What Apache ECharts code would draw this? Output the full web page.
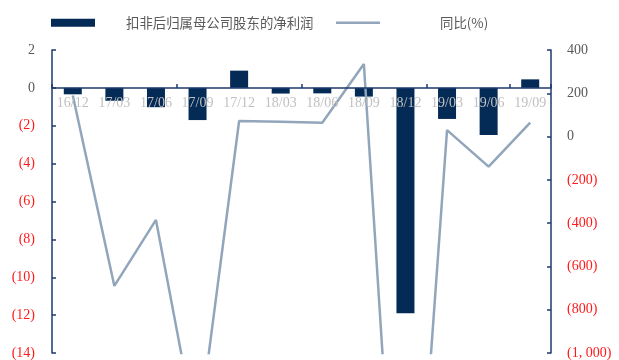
<!DOCTYPE html>
<html>
<head>
<meta charset="utf-8">
<script src="https://cdn.jsdelivr.net/npm/echarts@6/dist/echarts.min.js"></script>
<style>html,body{margin:0;padding:0;background:#fff}#c{width:619px;height:360px}</style>
</head>
<body>
<div id="c"></div>
<script>
var categories = ['16/12','17/03','17/06','17/09','17/12','18/03','18/06','18/09','18/12','19/03','19/06','19/09'];
var netProfit = [-0.34,-0.68,-1.02,-1.7,0.91,-0.3,-0.29,-0.46,-11.9,-1.64,-2.49,0.45];
var yoy = [190,-690,-385,-1400,72,68,64,335,-2650,30,-139,64];
var leftTicks = [2,0,-2,-4,-6,-8,-10,-12,-14];
var rightTicks = [400,200,0,-200,-400,-600,-800,-1000];

var serif = "'Times New Roman','Liberation Serif',serif";
var cjk = "'Noto Sans CJK SC',sans-serif";
var axisColor = '#1f3a6e';
var barColor = '#042a56';
var lineColor = '#91a6ba';

var gridTop = 50, gridBottom = 7, H = 360;
var plotH = H - gridTop - gridBottom;
var leftMin = leftTicks[leftTicks.length-1], leftMax = leftTicks[0];
var zeroOffset = plotH * (0 - leftMin) / (leftMax - leftMin);

function fmtNum(v){
  var a = Math.abs(v);
  var s = a >= 1000 ? (Math.floor(a/1000) + ', ' + String(a%1000).padStart(3,'0')) : String(a);
  return v < 0 ? '{neg|(' + s + ')}' : '{pos|' + s + '}';
}
var rich = {
  pos: {color:'#595959', fontFamily: serif, fontSize: 14},
  neg: {color:'#ff1a1a', fontFamily: serif, fontSize: 14}
};

var chart = echarts.init(document.getElementById('c'), null, {renderer:'canvas'});
chart.setOption({
  animation: false,
  legend: [
    {
      data: ['扣非后归属母公司股东的净利润'],
      left: 51, top: 16, padding: 0,
      icon: 'rect', itemWidth: 44, itemHeight: 8,
      textStyle: {fontFamily: cjk, fontSize: 13.4, color: '#595959', padding: [0,0,0,26]}
    },
    {
      data: [{name: '同比(%)', icon: 'rect', itemStyle: {color: lineColor}}],
      left: 336, top: 16, padding: 0,
      itemWidth: 44, itemHeight: 2.5,
      textStyle: {fontFamily: cjk, fontSize: 13.4, color: '#595959', padding: [0,0,0,55]}
    }
  ],
  grid: {left: 52, right: 68, top: gridTop, bottom: gridBottom, containLabel: false},
  xAxis: {
    type: 'category',
    data: categories,
    position: 'bottom',
    offset: -zeroOffset,
    z: 10,
    axisLine: {onZero: false, lineStyle: {color: axisColor, width: 1.5}},
    axisTick: {show: true, inside: true, length: 4, interval: 2, lineStyle: {color: axisColor, width: 1.5}},
    axisLabel: {color: '#c0c0c0', fontFamily: serif, fontSize: 14, margin: 8, interval: 0},
    splitLine: {show: false}
  },
  yAxis: [
    {
      type: 'value', min: leftMin, max: leftMax, interval: 2,
      axisLine: {show: true, onZero: false, lineStyle: {color: axisColor, width: 1.5}},
      axisTick: {show: true, inside: true, length: 4, lineStyle: {color: axisColor, width: 1.5}},
      axisLabel: {margin: 17, formatter: fmtNum, rich: rich},
      splitLine: {show: false}
    },
    {
      type: 'value', min: rightTicks[rightTicks.length-1], max: rightTicks[0], interval: 200,
      position: 'right',
      axisLine: {show: true, onZero: false, lineStyle: {color: axisColor, width: 1.5}},
      axisTick: {show: true, inside: true, length: 4, lineStyle: {color: axisColor, width: 1.5}},
      axisLabel: {margin: 16, formatter: fmtNum, rich: rich},
      splitLine: {show: false}
    }
  ],
  series: [
    {
      name: '扣非后归属母公司股东的净利润',
      type: 'bar', yAxisIndex: 0,
      data: netProfit, barWidth: 18,
      itemStyle: {color: barColor}
    },
    {
      name: '同比(%)',
      type: 'line', yAxisIndex: 1,
      data: yoy, symbol: 'none', showSymbol: false, clip: true,
      lineStyle: {color: lineColor, width: 2.5},
      itemStyle: {color: lineColor}
    }
  ]
});
</script>
</body>
</html>
